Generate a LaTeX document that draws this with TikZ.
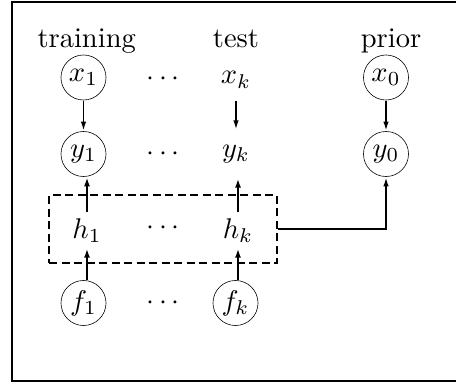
\documentclass[tikz,border=0pt]{standalone}
\usetikzlibrary{arrows.meta}
\begin{document}
\begin{tikzpicture}[x=1pt,y=-1pt,
  lbl/.style={scale=2.85, inner sep=0pt},
  var/.style={circle, draw, line width=0.6pt, minimum size=15.8pt, inner sep=0pt, scale=2.85},
  arr/.style={line width=1.6pt, -{Latex[length=9pt,width=5.5pt]}},
  arrb/.style={line width=2pt, -{Latex[length=9pt,width=6pt]}},
  plate/.style={draw, line width=2.2pt, dash pattern=on 8pt off 4.5pt, minimum width=228pt, minimum height=68pt, inner sep=0pt}]
\useasboundingbox (0,0) rectangle (456,383);
\draw[line width=2pt] (12,1.5) rectangle (480,381);
% headings
\node[lbl, anchor=base] (ttrain) at (86.7,47) {training};
\node[lbl, anchor=base] (ttest) at (236,47) {test};
\node[lbl, anchor=base] (tprior) at (391,47) {prior};
% row x
\node[var] (x1) at (83.5,77.5) {$x_1$};
\node[lbl] (dx) at (163,79) {$\cdots$};
\node[lbl, minimum height=14pt] (xk) at (236,80) {$x_k$};
\node[var] (x0) at (386,77.5) {$x_0$};
% row y
\node[var] (y1) at (83.5,154) {$y_1$};
\node[lbl] (dy) at (163,154) {$\cdots$};
\node[lbl, minimum height=16.84pt] (yk) at (236,154) {$y_k$};
\node[var] (y0) at (386,154) {$y_0$};
% row h
\node[plate] (box) at (163,229) {};
\node[lbl, minimum height=12.3pt] (h1) at (87,230.5) {$h_1$};
\node[lbl] (dh) at (163,228) {$\cdots$};
\node[lbl, minimum height=12.3pt] (hk) at (238,230.5) {$h_k$};
% row f
\node[var] (f1) at (83.5,303) {$f_1$};
\node[lbl] (df) at (163,303) {$\cdots$};
\node[var] (fk) at (235.5,303) {$f_k$};
% connectors
\draw[arr] (x1) -- (y1);
\draw[arr] (xk) -- (yk);
\draw[arr] (x0) -- (y0);
\draw[arrb] (h1.north) -- (h1.north |- y1.south);
\draw[arrb] (hk.north) -- (yk.south -| hk.north);
\draw[arrb] (h1.south |- f1.north) -- (h1.south);
\draw[arrb] (hk.south |- fk.north) -- (hk.south);
\draw[arr] (box.east) -| (y0.south);
\end{tikzpicture}
\end{document}
